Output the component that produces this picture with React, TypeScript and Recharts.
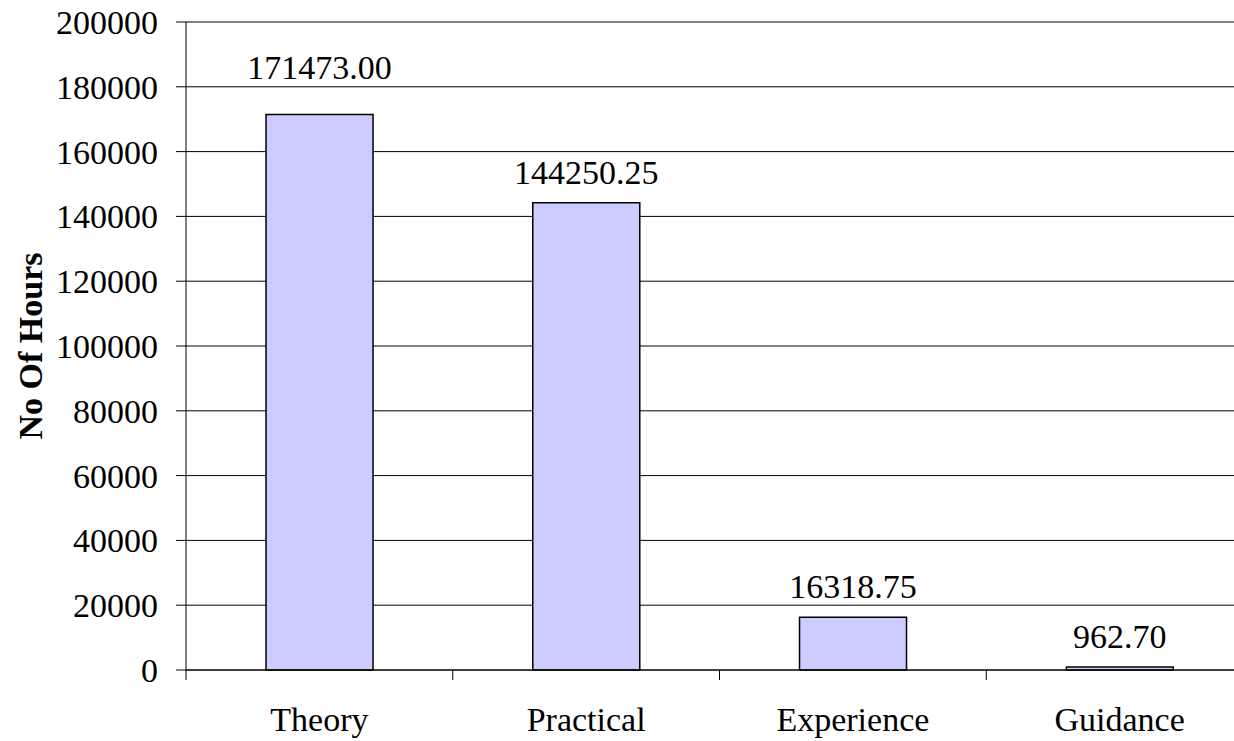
import React from 'react';
import { BarChart, Bar, XAxis, YAxis, CartesianGrid, LabelList } from 'recharts';

const categories = ['Theory', 'Practical', 'Experience', 'Guidance'];
const hours = [171473.0, 144250.25, 16318.75, 962.7];
const yTicks = [0, 20000, 40000, 60000, 80000, 100000, 120000, 140000, 160000, 180000, 200000];
const Y_MAX = 200000;

const chartData = categories.map((name, i) => ({ name, hours: hours[i] }));

const FONT = 'Liberation Serif, Times New Roman, serif';
const FS = 34;
const CHART_W = 1260;
const CHART_H = 741;
const MARGIN = { top: 22, right: 7, bottom: 0, left: 0 };
const Y_AXIS_W = 186;
const X_AXIS_H = 71;
const PLOT_W = CHART_W - MARGIN.left - MARGIN.right - Y_AXIS_W;
const PLOT_H = CHART_H - MARGIN.top - MARGIN.bottom - X_AXIS_H;
const BAND = PLOT_W / categories.length;

const XTick = (props: any) => {
  const { x, y, payload } = props;
  const axisY = y - 10;
  const left = x - BAND / 2;
  return (
    <g>
      <line x1={left} y1={axisY} x2={left} y2={axisY + 10} stroke="#000" strokeWidth={1} />
      <text x={x} y={axisY + 61} textAnchor="middle" fontSize={FS} fontFamily={FONT} fill="#000">
        {payload.value}
      </text>
    </g>
  );
};

// value label above the bar; lifted above a gridline if it would sit on one
const ValueLabel = (props: any) => {
  const { x, y, width, value } = props;
  let base = y - 19;
  const top = base - FS * 0.7;
  yTicks.forEach((t) => {
    const gy = MARGIN.top + PLOT_H * (1 - t / Y_MAX);
    if (gy > top - 2 && gy < base + 2) base = gy - 8;
  });
  return (
    <text x={x + width / 2} y={base} textAnchor="middle" fontSize={FS} fontFamily={FONT} fill="#000">
      {Number(value).toFixed(2)}
    </text>
  );
};

const YTick = (props: any) => {
  const { x, y, payload } = props;
  return (
    <text x={x} y={y} dy="0.355em" textAnchor="end" fontSize={FS} fontFamily={FONT} fill="#000">
      {payload.value}
    </text>
  );
};

const App: React.FC = () => {
  return (
    <div
      style={{
        position: 'absolute',
        left: 0,
        top: 0,
        width: 1234,
        height: 741,
        overflow: 'hidden',
        background: '#fff',
        fontFamily: FONT,
      }}
    >
      <BarChart width={CHART_W} height={CHART_H} data={chartData} margin={MARGIN} barCategoryGap="30%">
        <CartesianGrid vertical={false} stroke="#000" strokeWidth={1} />
        <XAxis
          dataKey="name"
          height={X_AXIS_H}
          tickSize={10}
          tickMargin={0}
          tickLine={false}
          axisLine={{ stroke: '#000' }}
          tick={(p: any) => <XTick {...p} />}
          interval={0}
        />
        <YAxis
          width={Y_AXIS_W}
          domain={[0, Y_MAX]}
          ticks={yTicks}
          interval={0}
          tickSize={10}
          tickMargin={18}
          axisLine={{ stroke: '#000' }}
          tickLine={{ stroke: '#000' }}
          tick={(p: any) => <YTick {...p} />}
          label={{
            value: 'No Of Hours',
            angle: -90,
            position: 'insideLeft',
            offset: 30,
            style: { textAnchor: 'middle', fontWeight: 'bold', fontSize: FS, fill: '#000', fontFamily: FONT },
          }}
        />
        <Bar dataKey="hours" fill="#CCCCFF" stroke="#000" strokeWidth={1.5} isAnimationActive={false}>
          <LabelList dataKey="hours" content={(p: any) => <ValueLabel {...p} />} />
        </Bar>
      </BarChart>
    </div>
  );
};

export default App;
